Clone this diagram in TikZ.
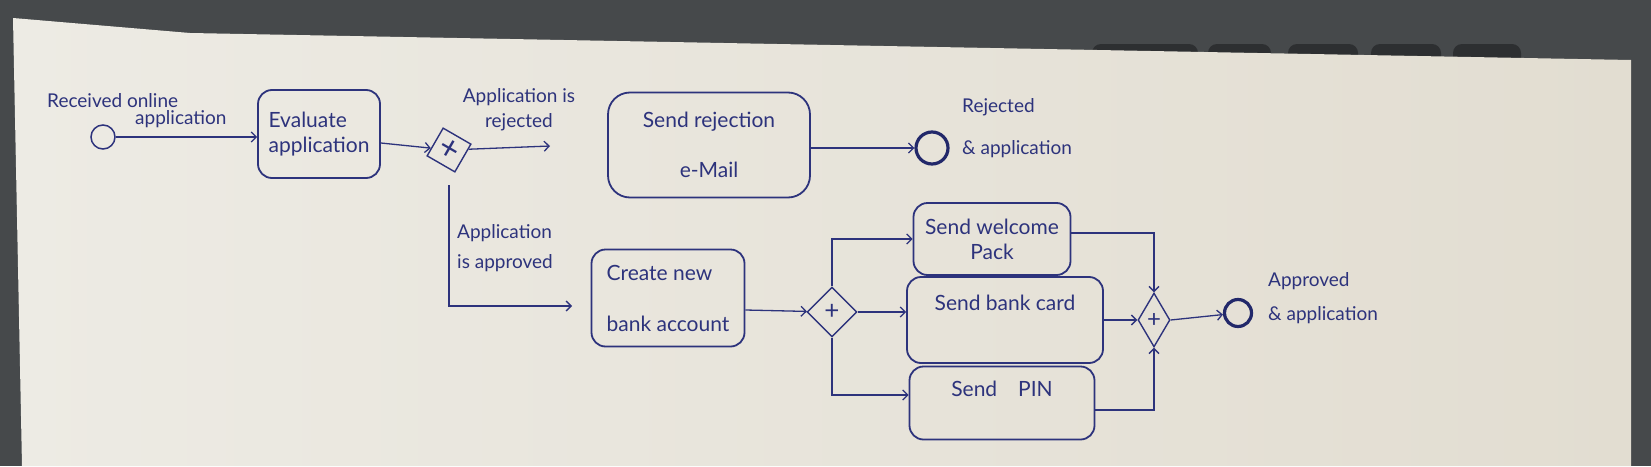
\documentclass[tikz,border=0pt]{standalone}
\usepackage{fontspec}
\setmainfont{Lato}
\usetikzlibrary{arrows.meta,shapes.geometric}
\definecolor{ink}{HTML}{2D337C}
\definecolor{inkdark}{HTML}{22286A}
\definecolor{bg}{HTML}{46494B}
\definecolor{bgdark}{HTML}{2D2F31}
\definecolor{paperL}{HTML}{EDEBE4}
\definecolor{paperR}{HTML}{E2DDD1}
\begin{document}
\begin{tikzpicture}[x=1pt,y=-1pt,
  every node/.style={text=ink},
  task/.style={draw=ink, line width=1.8pt, rounded corners=14pt, inner sep=2pt},
  flow/.style={draw=ink, line width=1.3pt, -{Straight Barb[length=5pt,width=10pt]}},
  startev/.style={circle, draw=ink, line width=1.5pt, inner sep=0pt},
  endev/.style={circle, draw=inkdark, line width=3.2pt, inner sep=0pt},
  gw/.style={diamond, aspect=0.6, draw=ink, line width=1.4pt, inner sep=0pt},
  lbl/.style={inner sep=0pt},
  tasktext/.style={font=\fontsize{21}{25}\selectfont}
]
\useasboundingbox (0,0) rectangle (1651,466);
\fill[bg] (0,0) rectangle (1651,466);
% objects behind the paper
\foreach \a/\b in {1092/1198,1208/1271,1288/1358,1371/1441,1453/1521}
  \fill[bgdark, rounded corners=9pt] (\a,44) rectangle (\b,80);
% paper
\shade[left color=paperL, right color=paperR] (13,18) -- (190,33) -- (1631,60) -- (1631,466) -- (22,466) -- cycle;

% events
\node[startev, minimum size=24pt] (start) at (103,137) {};
\node[endev, minimum size=32pt] (end1) at (932,148) {};
\node[endev, minimum size=27pt] (end2) at (1238,313) {};

% tasks
\node[task, tasktext, minimum width=122pt, minimum height=88pt, align=left] (evaluate) at (319,134) {Evaluate\\application};
\node[task, tasktext, rounded corners=22pt, minimum width=202pt, minimum height=105pt, align=center] (reject) at (709,145) {Send rejection\\[25pt]e-Mail};
\node[task, tasktext, minimum width=153pt, minimum height=97pt, align=left] (create) at (668,298) {Create new\\[26pt]bank account};
\node[task, tasktext, minimum width=157pt, minimum height=72pt, align=center] (welcome) at (992,239) {Send welcome\\Pack};
\node[task, tasktext, minimum width=196pt, minimum height=86pt, text depth=34pt] (bankcard) at (1005,320) {Send bank card};
\node[task, tasktext, minimum width=185pt, minimum height=73pt, text depth=28pt] (pin) at (1002,403) {Send\quad PIN};

% gateways
\node[draw=ink, line width=1.4pt, minimum size=32pt, inner sep=0pt, rotate=-30, font=\fontsize{34}{34}\selectfont] (xor) at (449,150) {+};
\node[gw, minimum width=50pt, minimum height=50pt, font=\fontsize{26}{26}\selectfont] (par) at (832,312) {+};
\node[gw, minimum width=32pt, minimum height=54pt, font=\fontsize{24}{24}\selectfont] (join) at (1154,320) {+};

% free ends
\coordinate (rejfree) at (550,146);
\coordinate (aprvfree) at (572,306);

% labels
\node[lbl, anchor=base west, font=\fontsize{19}{23}\selectfont] (lrecv) at (47,107) {Received online};
\node[lbl, anchor=base west, font=\fontsize{19}{23}\selectfont] (lrecvb) at (135,124) {application};
\node[lbl, anchor=north, align=center, font=\fontsize{19}{25}\selectfont] (lrej) at (519,88) {Application is\\rejected};
\node[lbl, anchor=north west, align=left, font=\fontsize{19}{30}\selectfont] (lapp) at (457,224) {Application\\is approved};
\node[lbl, anchor=north west, align=left, font=\fontsize{19}{42}\selectfont] (lend1) at (962,98) {Rejected\\\& application};
\node[lbl, anchor=north west, align=left, font=\fontsize{19}{34}\selectfont] (lend2) at (1268,272) {Approved\\\& application};

% flows
\draw[flow] (start) -- (start -| evaluate.west);
\draw[flow] ([yshift=-9pt]evaluate.east) -- (xor);
\draw[flow] (xor) -- (rejfree);
\draw[flow] ([yshift=-35pt]xor.center) |- (aprvfree);
\draw[flow] (reject.east |- end1) -- (end1);
\draw[flow] ([yshift=-12pt]create.east) -- (par);
\draw[flow] (par.north) |- (welcome.west);
\draw[flow] (par.east) -- (par.east -| bankcard.west);
\draw[flow] (par.south) |- ([yshift=8pt]pin.west);
\draw[flow] ([yshift=6pt]welcome.east) -| (join.north);
\draw[flow] (bankcard.east |- join) -- (join.west);
\draw[flow] ([yshift=-7pt]pin.east) -| (join.south);
\draw[flow] (join.east) -- (end2);
\end{tikzpicture}
\end{document}
